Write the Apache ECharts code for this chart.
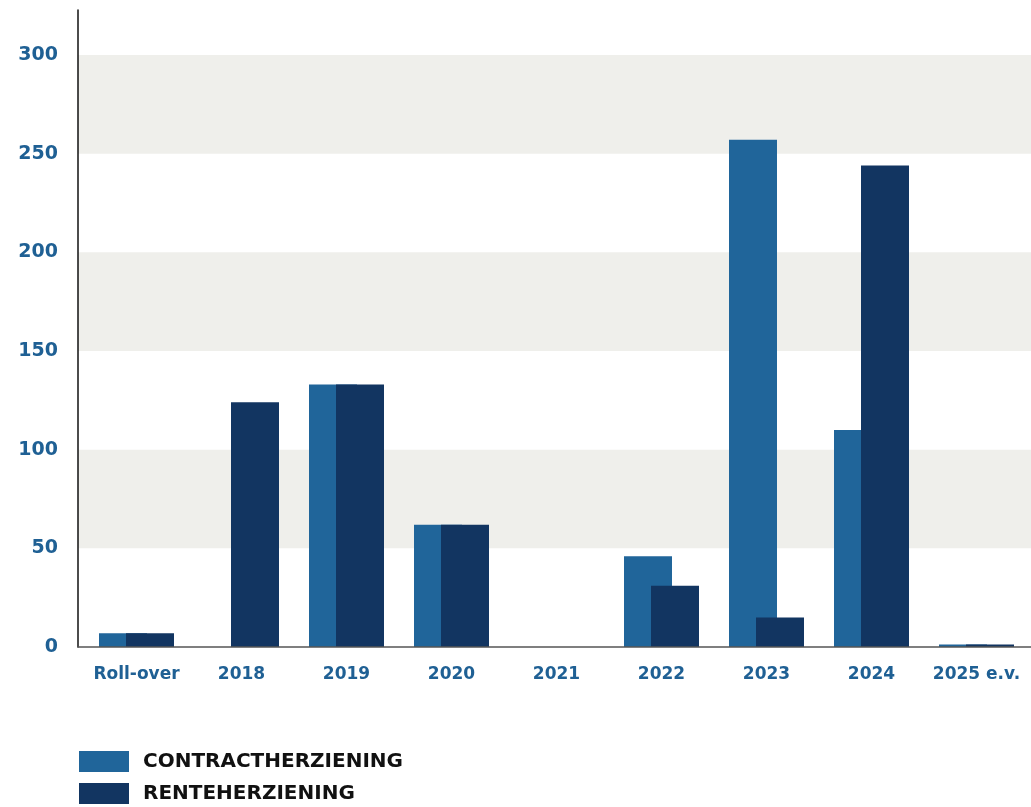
<!DOCTYPE html>
<html>
<head>
<meta charset="utf-8">
<script src="https://cdn.jsdelivr.net/npm/echarts@6/dist/echarts.min.js"></script>
<style>
  html, body { margin: 0; padding: 0; background: #ffffff; }
  #chart { width: 1031px; height: 807px; }
</style>
</head>
<body>
<div id="chart"></div>
<script>
// Categories and values (in miljoen)
const categories = ['Roll-over', '2018', '2019', '2020', '2021', '2022', '2023', '2024', '2025 e.v.'];
const contractherziening = [7, null, 133, 62, null, 46, 257, 110, 1.3];
const renteherziening = [7, 124, 133, 62, null, 31, 15, 244, 1.3];
const seriesNames = ['CONTRACTHERZIENING', 'RENTEHERZIENING'];
const yMin = 0;
const yMax = 322.8;
const yInterval = 50;

const labelColor = '#1f6094';
const font = 'DejaVu Sans';

const chart = echarts.init(document.getElementById('chart'), null, { renderer: 'canvas' });

chart.setOption({
  animation: false,
  backgroundColor: '#ffffff',
  // grid 0 carries the value axis with its bands and the baseline;
  // grid 1 carries the bar groups
  grid: [
    { left: 78, right: 0, top: 10, bottom: 160, containLabel: false },
    { left: 84, right: 2, top: 10, bottom: 160, containLabel: false }
  ],
  legend: {
    orient: 'vertical',
    left: 79,
    top: 751,
    padding: 0,
    itemWidth: 50,
    itemHeight: 21,
    itemGap: 11,
    icon: 'rect',
    selectedMode: false,
    data: seriesNames,
    textStyle: {
      fontFamily: font,
      fontWeight: 'bold',
      fontSize: 20,
      color: '#111111',
      padding: [2, 0, 0, 9]
    }
  },
  xAxis: [
    {
      gridIndex: 0,
      type: 'value',
      min: 0,
      max: 1,
      z: 5,
      axisLine: { show: true, onZero: false, lineStyle: { color: '#555555', width: 1.5 } },
      axisTick: { show: false },
      axisLabel: { show: false },
      splitLine: { show: false }
    },
    {
      gridIndex: 1,
      type: 'category',
      data: categories,
      axisLine: { show: false },
      axisTick: { show: false },
      axisLabel: {
        interval: 0,
        margin: 19,
        fontFamily: font,
        fontWeight: 'bold',
        fontSize: 17,
        color: labelColor
      },
      splitLine: { show: false }
    }
  ],
  yAxis: [
    {
      gridIndex: 0,
      type: 'value',
      min: yMin,
      max: yMax,
      interval: yInterval,
      z: 0,
      axisLine: { show: true, lineStyle: { color: '#111111', width: 1.5 } },
      axisTick: { show: false },
      axisLabel: {
        margin: 20,
        showMaxLabel: false,
        fontFamily: font,
        fontWeight: 'bold',
        fontSize: 19,
        color: labelColor,
        padding: [3, 0, 0, 0]
      },
      splitLine: { show: false },
      splitArea: {
        show: true,
        areaStyle: { color: ['rgba(255,255,255,0)', '#efefeb'] }
      }
    },
    {
      gridIndex: 1,
      type: 'value',
      min: yMin,
      max: yMax,
      interval: yInterval,
      show: false
    }
  ],
  series: [
    {
      name: seriesNames[0],
      type: 'bar',
      xAxisIndex: 1,
      yAxisIndex: 1,
      z: 3,
      data: contractherziening,
      barWidth: 48,
      barGap: '-43.75%',
      itemStyle: { color: '#20659a' }
    },
    {
      name: seriesNames[1],
      type: 'bar',
      xAxisIndex: 1,
      yAxisIndex: 1,
      z: 3,
      data: renteherziening,
      barWidth: 48,
      barGap: '-43.75%',
      itemStyle: { color: '#123561' }
    }
  ]
});
</script>
</body>
</html>
